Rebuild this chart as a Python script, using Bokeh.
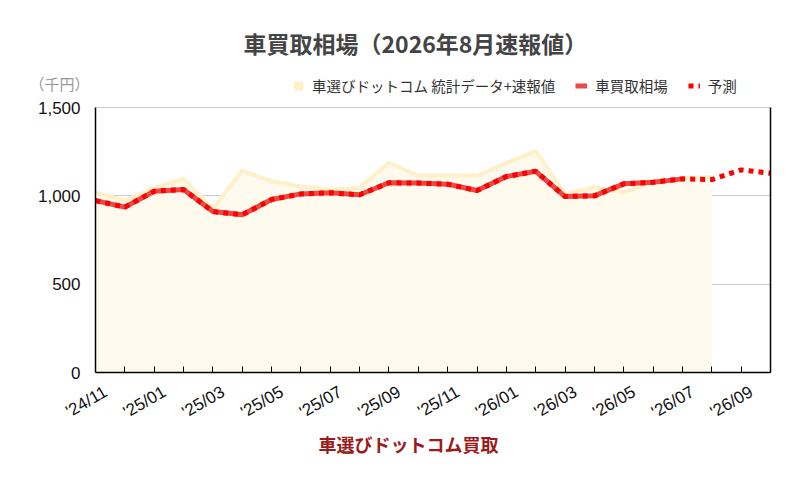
import math
from bokeh.plotting import figure
from bokeh.models import (ColumnDataSource, FixedTicker, NumeralTickFormatter, Legend,
                          LegendItem, LinearAxis, Label, Range1d)
from bokeh.embed import file_html
from bokeh.resources import INLINE

months = ["'24/11", "'24/12", "'25/01", "'25/02", "'25/03", "'25/04", "'25/05", "'25/06",
          "'25/07", "'25/08", "'25/09", "'25/10", "'25/11", "'25/12", "'26/01", "'26/02",
          "'26/03", "'26/04", "'26/05", "'26/06", "'26/07", "'26/08", "'26/09", "'26/10"]

stat_values = [1020, 973, 1045, 1096, 926, 1143, 1083, 1053, 1034, 1045, 1187, 1113,
               1117, 1113, 1185, 1253, 1011, 1049, 1020, 1077, 1100, 1105]

market_values = [973, 936, 1026, 1036, 911, 893, 979, 1011, 1017, 1006, 1074, 1072,
                 1066, 1030, 1109, 1139, 996, 1000, 1068, 1077, 1096]

forecast_values = [1092, 1147, 1128]

y_ticks = [0, 500, 1000, 1500]

JP = "Noto Sans CJK JP"
LAT = "Liberation Sans"

# frame spans from y=70 to y=372; the 0..1500 scale occupies 107..372
Y_TOP = 1500 * (372 - 70) / (372 - 107)
# tick labels sit a little to the right of their ticks (about 10px = 0.35 month)
LABEL_SHIFT = 0.35

idx = list(range(len(months)))
stat_src = ColumnDataSource(dict(x=idx[:len(stat_values)], y=stat_values))
market_src = ColumnDataSource(dict(x=idx[:len(market_values)], y=market_values))
dotted_all = market_values + forecast_values
dot_src = ColumnDataSource(dict(x=idx[:len(dotted_all)], y=dotted_all))

p = figure(width=811, height=478, output_backend="svg", toolbar_location=None,
           x_range=Range1d(0, len(months) - 1), y_range=Range1d(0, Y_TOP),
           title_location=None,
           min_border_left=95, min_border_right=41, min_border_top=70, min_border_bottom=106)
p.outline_line_color = None
p.background_fill_color = "white"
p.extra_x_ranges = {"lab": Range1d(-LABEL_SHIFT, len(months) - 1 - LABEL_SHIFT)}

# area
area = p.varea(x="x", y1=0, y2="y", source=stat_src, fill_color="#fffaee")
p.line(x="x", y="y", source=stat_src, line_color="#fff0c8", line_width=4)
# zero-height area used only for the legend swatch
swatch = p.varea(x="x", y1="y", y2="y", source=stat_src, fill_color="#fff0c8")
# market line
mline = p.line(x="x", y="y", source=market_src, line_color="#e84a45", line_width=5)
# dotted
dline = p.line(x="x", y="y", source=dot_src, line_color="#ff0000", line_width=5, line_dash="5 5")

legend = Legend(items=[LegendItem(label="車選びドットコム 統計データ+速報値", renderers=[swatch]),
                       LegendItem(label="車買取相場", renderers=[mline]),
                       LegendItem(label="予測", renderers=[dline])],
                orientation="horizontal", location=(197, 276),
                border_line_color=None, background_fill_alpha=0,
                label_text_font=JP, label_text_font_size="14.5px", label_text_color="#333333",
                glyph_width=12, glyph_height=11, spacing=20, padding=0, margin=0,
                label_standoff=8)
p.add_layout(legend, "center")

unit = Label(x=-66, y=-13, x_units="screen", y_units="screen", text="（千円）",
             text_font=JP, text_font_size="15px", text_color="#999999",
             text_baseline="middle")
p.add_layout(unit, "above")

main_title = Label(x=148, y=7, x_units="screen", y_units="screen",
                   text="車買取相場（2026年8月速報値）", text_font=JP, text_font_size="23px",
                   text_font_style="bold", text_color="#444444", text_baseline="middle")
p.add_layout(main_title, "above")

# grid
p.xgrid.grid_line_color = None
p.ygrid.grid_line_color = "#cccccc"
p.ygrid.ticker = FixedTicker(ticks=y_ticks)

# y axis
p.yaxis.ticker = FixedTicker(ticks=y_ticks)
p.yaxis.bounds = (0, 1500)
p.yaxis.formatter = NumeralTickFormatter(format="0,0")
p.yaxis.major_tick_line_color = None
p.yaxis.minor_tick_line_color = None
p.yaxis.axis_line_color = "black"
p.yaxis.axis_line_width = 1.5
p.yaxis.major_label_text_font = LAT
p.yaxis.major_label_text_font_size = "17px"
p.yaxis.major_label_text_color = "#111111"
p.yaxis.major_label_standoff = 9

# right axis line
ra = LinearAxis(major_tick_line_color=None,
                minor_tick_line_color=None, axis_line_color="black", axis_line_width=1.5,
                ticker=FixedTicker(ticks=[]), bounds=(0, 1500))
p.add_layout(ra, "right")

# x axis: line + inward month ticks (no labels)
p.xaxis.ticker = FixedTicker(ticks=[], minor_ticks=idx)
p.xaxis.major_label_standoff = 0
p.xaxis.major_tick_in = 6
p.xaxis.major_tick_out = 0
p.xaxis.minor_tick_in = 6
p.xaxis.minor_tick_out = 0
p.xaxis.major_tick_line_color = "black"
p.xaxis.minor_tick_line_color = "black"
p.xaxis.axis_line_color = "black"
p.xaxis.axis_line_width = 1.5

# x axis: month labels
lab_axis = LinearAxis(x_range_name="lab", ticker=FixedTicker(ticks=idx[::2]),
                      major_label_overrides={i: months[i] for i in idx},
                      major_label_orientation=math.pi / 6,
                      major_tick_line_color=None, minor_tick_line_color=None,
                      axis_line_color=None, major_tick_in=0, major_tick_out=0,
                      major_label_text_font=LAT, major_label_text_font_size="17px",
                      major_label_text_color="#111111", major_label_standoff=18)
p.add_layout(lab_axis, "below")

# bottom caption
cap = Label(x=223, y=15, x_units="screen", y_units="screen", text="車選びドットコム買取",
            text_font=JP, text_font_size="18px", text_font_style="bold",
            text_color="#9c1a1a", text_baseline="middle")
p.add_layout(cap, "below")

open("out.html", "w").write(file_html(p, INLINE))
